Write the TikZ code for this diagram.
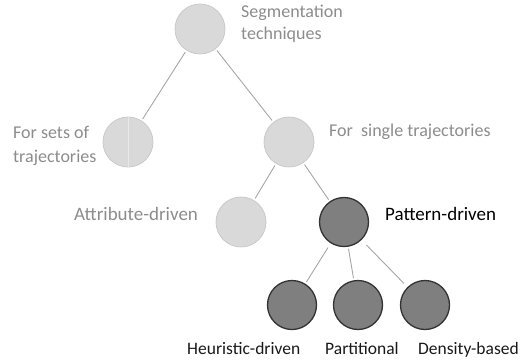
\documentclass[tikz,border=0pt]{standalone}
\usepackage{fontspec}
\setmainfont{Carlito}
\definecolor{lightfill}{HTML}{D9D9D9}
\definecolor{lightedge}{HTML}{CACACA}
\definecolor{seam}{HTML}{E8E8E8}
\definecolor{darkfill}{HTML}{7F7F7F}
\definecolor{darkedge}{HTML}{333333}
\definecolor{linkgray}{HTML}{A6A6A6}
\definecolor{labelgray}{HTML}{8C8C8C}
\tikzset{
  lightnode/.style={circle, minimum size=50pt, inner sep=0pt, fill=lightfill, draw=lightedge, line width=0.8pt},
  darknode/.style={circle, minimum size=49pt, inner sep=0pt, fill=darkfill, draw=darkedge, line width=1.3pt},
  link/.style={draw=linkgray, line width=0.9pt, shorten <=2pt, shorten >=2pt},
  greylabel/.style={text=labelgray, inner sep=0pt, font=\fontsize{18}{22}\selectfont, align=left},
  biglabel/.style={inner sep=0pt, font=\fontsize{19}{22}\selectfont},
  leaflabel/.style={text=black!90, inner sep=0pt, font=\fontsize{17.5}{21}\selectfont, anchor=base west}
}
\begin{document}
\begin{tikzpicture}[x=1pt,y=-1pt]
  \useasboundingbox (0,0) rectangle (522,360);

  % tree nodes
  \node[lightnode] (root)  at (200,29)  {};
  \node[lightnode] (sets)  at (128,142) {};
  \node[lightnode] (single) at (289,142) {};
  \node[lightnode] (attr)  at (241,222) {};
  \node[darknode]  (patt)  at (344,222) {};
  \node[darknode]  (heur)  at (292,305) {};
  \node[darknode]  (part)  at (358,305) {};
  \node[darknode]  (dens)  at (425,305) {};

  % faint seam through the left circle
  \draw[seam, line width=0.9pt] (sets.north) -- (sets.south);

  % connectors
  \draw[link] (root) -- (sets);
  \draw[link] (root) -- (single);
  \draw[link] (single) -- (attr);
  \draw[link] (single) -- (patt);
  \draw[link, shorten <=5pt] (patt) -- (heur);
  \draw[link] (patt) -- (part);
  \draw[link, shorten <=7pt, shorten >=5pt] (patt) -- (dens);

  % labels
  \node[greylabel, anchor=base west] (lroot) at (241,17) {Segmentation};
  \node[greylabel, anchor=base west] (lroot2) at (241,39) {techniques};
  \node[greylabel, anchor=base west] (lsets) at (13,138) {For sets of};
  \node[greylabel, anchor=base west] (lsets2) at (13,162) {trajectories};
  \node[greylabel, anchor=base west] (lsingle) at (329,136) {For\ \ single trajectories};
  \node[biglabel, text=labelgray, anchor=base west] (lattr) at (74,220) {Attribute-driven};
  \node[biglabel, text=black, anchor=base west] (lpatt) at (385,220) {Pattern-driven};
  \node[leaflabel] (lheur) at (187,354) {Heuristic-driven};
  \node[leaflabel] (lpart) at (325,354) {Partitional};
  \node[leaflabel] (ldens) at (418,354) {Density-based};
\end{tikzpicture}
\end{document}
